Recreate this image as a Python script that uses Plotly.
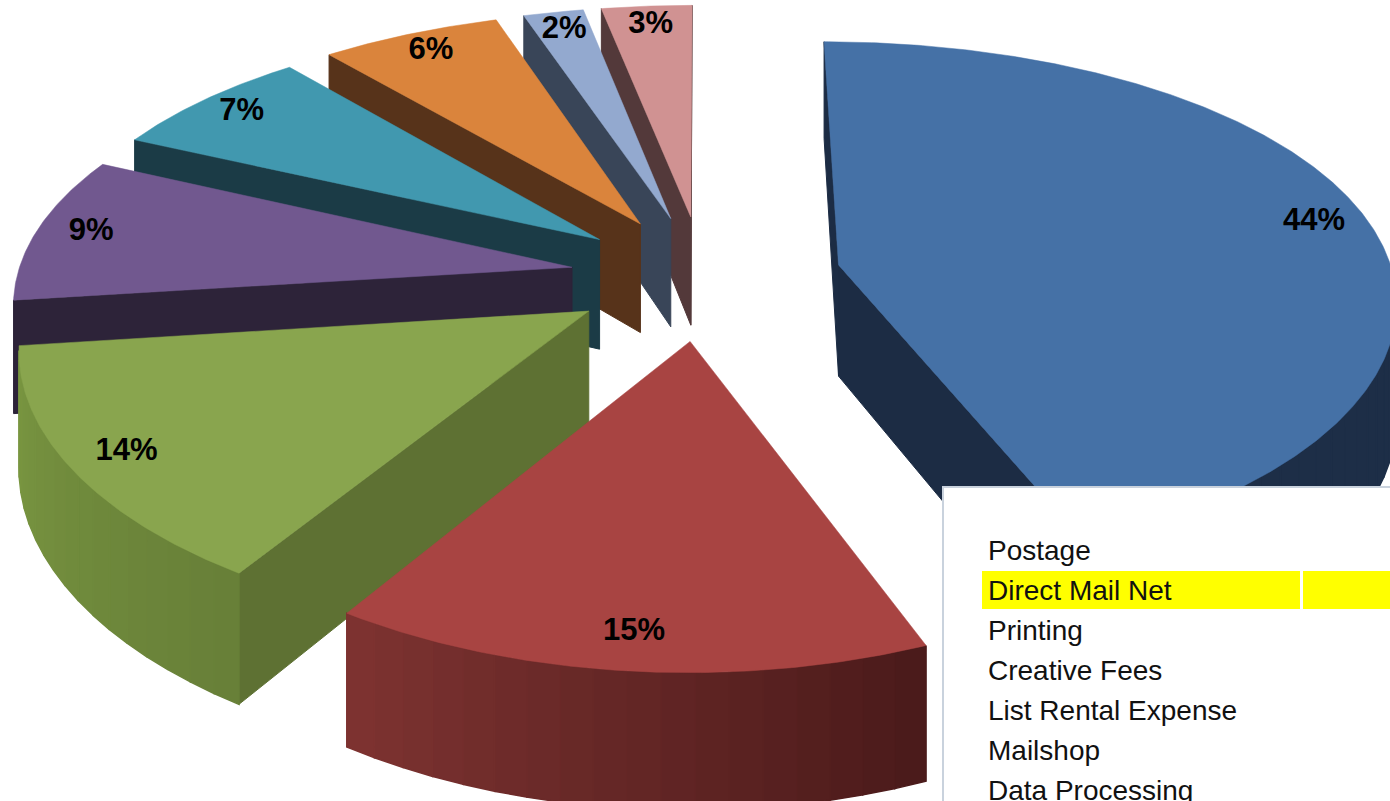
import numpy as np
import plotly.graph_objects as go

# ---------------- data ----------------
categories = ["Postage", "Direct Mail Net", "Printing", "Creative Fees",
              "List Rental Expense", "Mailshop", "Data Processing"]
highlighted_row = "Direct Mail Net"
pct_values = [44, 15, 14, 9, 7, 6, 2, 3]          # slices, clockwise from 12 o'clock
pct_labels = [f"{v}%" for v in pct_values]

# ---------------- styles ----------------
top_colors = ["#4571A6", "#A84442", "#89A54E", "#71588F",
              "#4198AF", "#DA843C", "#93A9CF", "#D09292"]
cut_colors = ["#1C2C44", "#5A2423", "#5E7133", "#2D2339",
              "#1B3B46", "#57331A", "#394558", "#53393A"]
wall_start = ["#1D2E47", "#4A1A1A", "#677F38", "#2E2339",
              "#1B3B46", "#57331A", "#394558", "#53393A"]
wall_end = ["#1D2E47", "#7E3331", "#7A9741", "#2E2339",
            "#1B3B46", "#57331A", "#394558", "#53393A"]
explode = [0.25, 0.24, 0.24, 0.24, 0.24, 0.24, 0.24, 0.24]

# projection of the tilted disc (unit radius) to page pixels
CX, CY = 703.0, 277.0
AX, BY, DEPTH = 555.0, 260.0, 112.0
PERSP_X, PERSP_Y = 0.12, 0.15
LABEL_R = 0.9


def proj(X, Y, z):
    sx = 1.0 / (1.0 - PERSP_X * Y)
    sy = 1.0 / (1.0 - PERSP_Y * Y)
    return CX + AX * X * sx, CY + BY * Y * sy + DEPTH * z * sy


def hex2rgb(h):
    h = h.lstrip("#")
    return np.array([int(h[i:i + 2], 16) for i in (0, 2, 4)], dtype=float)


def lerp(c1, c2, t):
    a, b = hex2rgb(c1), hex2rgb(c2)
    c = a + (b - a) * t
    return "rgb(%d,%d,%d)" % tuple(np.round(c))


def signed_area(pts):
    a = 0.0
    for k in range(len(pts)):
        x1, y1 = pts[k]
        x2, y2 = pts[(k + 1) % len(pts)]
        a += x1 * y2 - x2 * y1
    return a / 2.0


fracs = np.array(pct_values, dtype=float) / sum(pct_values)
ends = np.cumsum(fracs) * 360.0
starts = np.concatenate([[0.0], ends[:-1]])
mids = (starts + ends) / 2.0
dirx = np.sin(np.radians(mids))
diry = -np.cos(np.radians(mids))

fig = go.Figure()


def add_poly(xs, ys, color, lw=1.0):
    fig.add_trace(go.Scatter(
        x=list(xs) + [xs[0]], y=list(ys) + [ys[0]],
        mode="lines", fill="toself", fillcolor=color,
        line=dict(color=color, width=lw), hoverinfo="skip", showlegend=False))


order = sorted(range(len(pct_values)), key=lambda i: diry[i])
for i in order:
    ox, oy = explode[i] * dirx[i], explode[i] * diry[i]

    def pt(theta, r=1.0):
        t = np.radians(theta)
        return ox + r * np.sin(t), oy - r * np.cos(t)

    def quad(P, Q):
        T1 = proj(P[0], P[1], 0); T2 = proj(Q[0], Q[1], 0)
        B2 = proj(Q[0], Q[1], 1); B1 = proj(P[0], P[1], 1)
        return [T1, T2, B2, B1]

    centre = (ox, oy)
    # cut faces
    for P, Q in [(centre, pt(starts[i])), (pt(ends[i]), centre)]:
        q = quad(P, Q)
        if signed_area(q) < 0:
            add_poly([p[0] for p in q], [p[1] for p in q], cut_colors[i])
    # outer wall in shaded bands
    n_seg = max(4, int(np.ceil(ends[i] - starts[i])))
    th = np.linspace(starts[i], ends[i], n_seg + 1)
    vis = []
    for k in range(n_seg):
        q = quad(pt(th[k]), pt(th[k + 1]))
        vis.append(signed_area(q) < 0)
    k = 0
    band = 3
    while k < n_seg:
        if not vis[k]:
            k += 1
            continue
        k2 = k
        while k2 < n_seg and vis[k2] and (k2 - k) < band:
            k2 += 1
        angs = th[k:k2 + 1]
        topp = [proj(*pt(a), 0) for a in angs]
        botp = [proj(*pt(a), 1) for a in angs[::-1]]
        poly = topp + botp
        tmid = ((angs[0] + angs[-1]) / 2 - starts[i]) / (ends[i] - starts[i])
        col = lerp(wall_start[i], wall_end[i], tmid)
        add_poly([p[0] for p in poly], [p[1] for p in poly], col, 1.5)
        k = k2
    # top face
    angs = np.linspace(starts[i], ends[i], n_seg * 2 + 1)
    poly = [proj(ox, oy, 0)] + [proj(*pt(a), 0) for a in angs]
    add_poly([p[0] for p in poly], [p[1] for p in poly], top_colors[i], 0.5)

# percentage labels
lx, ly = [], []
for i in range(len(pct_values)):
    R = explode[i] + LABEL_R
    px, py = proj(R * dirx[i], R * diry[i], 0)
    lx.append(px); ly.append(py)
fig.add_trace(go.Scatter(
    x=lx, y=ly, mode="text", text=pct_labels,
    textfont=dict(family="Liberation Sans, Arial", size=31,
                  color="#000000", weight="bold"),
    hoverinfo="skip", showlegend=False))

# spreadsheet-like legend block
BOX_X0, BOX_Y0 = 943, 487
ROW_X, ROW_Y0, ROW_H = 986, 550, 40
shapes = [dict(type="rect", xref="x", yref="y", x0=BOX_X0, y0=BOX_Y0, x1=1400, y1=810,
               fillcolor="white", line=dict(color="#C9D2DD", width=2), layer="above")]
annotations = []
for k, name in enumerate(categories):
    yc = ROW_Y0 + k * ROW_H
    if name == highlighted_row:
        shapes.append(dict(type="rect", xref="x", yref="y", x0=982, x1=1300,
                           y0=yc - 19, y1=yc + 19, fillcolor="#FFFF00",
                           line=dict(width=0), layer="above"))
        shapes.append(dict(type="rect", xref="x", yref="y", x0=1303, x1=1400,
                           y0=yc - 19, y1=yc + 19, fillcolor="#FFFF00",
                           line=dict(width=0), layer="above"))
    annotations.append(dict(x=ROW_X, y=yc, xref="x", yref="y", text=name,
                            showarrow=False, xanchor="left", yanchor="middle",
                            font=dict(family="Liberation Sans, Arial", size=28,
                                      color="#111111")))

fig.update_layout(
    width=1390, height=801, margin=dict(l=0, r=0, t=0, b=0),
    paper_bgcolor="white", plot_bgcolor="white", showlegend=False,
    xaxis=dict(range=[0, 1390], visible=False, fixedrange=True),
    yaxis=dict(range=[801, 0], visible=False, fixedrange=True),
    shapes=shapes, annotations=annotations)

fig.write_html("out.html",
               config={"displayModeBar": False},
               post_script="document.body.style.margin='0';"
                           "document.body.style.overflow='hidden';")
